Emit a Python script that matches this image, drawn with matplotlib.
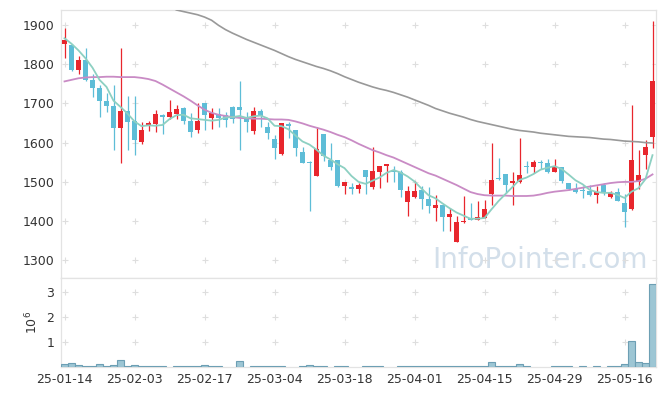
import numpy as np
import matplotlib
matplotlib.use("Agg")
import matplotlib.pyplot as plt

nan = float("nan")

# daily prices, one entry per trading day (2025-01-14 .. 2025-05-22)
opens = [1851, 1848, 1786, 1811, 1759, 1738, 1707, 1694, 1638, 1680,
         1655, 1602, 1645, 1648, 1670, 1666, 1672, 1688, 1656, 1632,
         1700, 1664, 1674, 1670, 1692, 1690, 1665, 1630, 1680, 1641,
         1608, 1570, 1648, 1631, 1576, 1551, 1516, 1621, 1556, 1555,
         1490, 1486, 1482, 1530, 1488, 1526, 1540, 1528, 1526, 1448,
         1462, 1478, 1457, 1434, 1441, 1411, 1348, 1397, 1408, 1404,
         1409, 1468, 1511, 1519, 1498, 1499, 1541, 1539, 1550, 1549,
         1526, 1538, 1497, 1483, 1480, 1477, 1466, 1493, 1462, 1474,
         1447, 1432, 1500, 1568, 1615]
highs = [1893, 1852, 1820, 1842, 1776, 1746, 1727, 1748, 1840, 1720,
         1718, 1653, 1655, 1683, 1674, 1708, 1697, 1690, 1676, 1700,
         1701, 1688, 1689, 1677, 1693, 1756, 1677, 1692, 1685, 1653,
         1620, 1650, 1653, 1632, 1588, 1552, 1640, 1622, 1600, 1556,
         1500, 1498, 1497, 1531, 1588, 1541, 1546, 1541, 1530, 1490,
         1501, 1490, 1488, 1467, 1442, 1434, 1413, 1465, 1445, 1452,
         1454, 1598, 1560, 1520, 1525, 1611, 1552, 1555, 1556, 1559,
         1557, 1539, 1498, 1497, 1490, 1493, 1489, 1496, 1476, 1485,
         1470, 1697, 1580, 1607, 1909]
lows = [1815, 1782, 1774, 1757, 1717, 1666, 1678, 1580, 1549, 1580,
        1569, 1596, 1629, 1627, 1621, 1660, 1661, 1647, 1614, 1625,
        1632, 1636, 1640, 1640, 1649, 1581, 1627, 1621, 1640, 1608,
        1558, 1569, 1612, 1565, 1549, 1426, 1516, 1554, 1530, 1486,
        1468, 1468, 1472, 1468, 1483, 1484, 1500, 1500, 1462, 1412,
        1460, 1430, 1420, 1401, 1375, 1375, 1347, 1396, 1403, 1404,
        1408, 1440, 1506, 1471, 1441, 1496, 1522, 1522, 1534, 1522,
        1525, 1496, 1480, 1471, 1459, 1463, 1445, 1466, 1459, 1450,
        1384, 1428, 1482, 1534, 1587]
closes = [1861, 1785, 1811, 1760, 1738, 1706, 1694, 1638, 1680, 1653,
          1607, 1631, 1650, 1674, 1665, 1678, 1685, 1654, 1627, 1654,
          1671, 1676, 1663, 1658, 1659, 1683, 1653, 1680, 1668, 1625,
          1587, 1649, 1643, 1587, 1549, 1549, 1583, 1565, 1538, 1490,
          1499, 1483, 1492, 1513, 1527, 1540, 1545, 1526, 1480, 1477,
          1476, 1456, 1439, 1441, 1411, 1419, 1398, 1400, 1404, 1410,
          1430, 1505, 1507, 1492, 1502, 1517, 1539, 1550, 1548, 1526,
          1538, 1502, 1481, 1473, 1476, 1466, 1475, 1472, 1471, 1451,
          1424, 1555, 1517, 1590, 1756]

# volume, millions of shares
volume_m = [0.11, 0.16, 0.08, 0.03, 0.03, 0.11, 0.03, 0.08, 0.29, 0.03,
            0.08, 0.03, 0.03, 0.03, 0.03, 0, 0.03, 0.03, 0.03, 0.03,
            0.07, 0.03, 0.03, 0, 0, 0.25, 0, 0.03, 0.03, 0.03,
            0.03, 0.03, 0, 0, 0.03, 0.08, 0.03, 0.03, 0, 0.03,
            0.03, 0, 0, 0.03, 0.03, 0.03, 0, 0, 0.03, 0.03,
            0.03, 0.03, 0.03, 0.03, 0.03, 0.03, 0.03, 0.03, 0.03, 0.03,
            0.03, 0.19, 0.03, 0.03, 0.03, 0.10, 0.03, 0, 0, 0,
            0.03, 0.03, 0.03, 0, 0.03, 0, 0.03, 0, 0.03, 0.03,
            0.10, 1.04, 0.19, 0.15, 3.32]

# moving average lines
ma_short = [1866, 1852, 1835, 1815, 1791, 1760, 1742, 1707, 1691, 1674,
            1654, 1642, 1644, 1643, 1645, 1660, 1670, 1671, 1662, 1660,
            1658, 1656, 1658, 1664, 1665, 1668, 1663, 1667, 1669, 1662,
            1643, 1642, 1634, 1618, 1603, 1595, 1582, 1567, 1557, 1545,
            1535, 1515, 1500, 1495, 1503, 1511, 1523, 1530, 1524, 1514,
            1501, 1483, 1466, 1458, 1445, 1433, 1422, 1414, 1406, 1406,
            1408, 1430, 1451, 1469, 1487, 1505, 1511, 1520, 1531, 1536,
            1540, 1533, 1519, 1504, 1494, 1480, 1474, 1472, 1472, 1467,
            1459, 1475, 1484, 1507, 1568]
ma_mid = [1756, 1760, 1764, 1766, 1767, 1767, 1768, 1768, 1767, 1767,
          1767, 1765, 1762, 1757, 1748, 1738, 1728, 1718, 1707, 1695,
          1684, 1676, 1671, 1668, 1665, 1663, 1662, 1661, 1661, 1660,
          1659, 1659, 1658, 1654, 1649, 1643, 1638, 1633, 1627, 1620,
          1614, 1606, 1597, 1589, 1581, 1575, 1568, 1562, 1554, 1546,
          1538, 1530, 1522, 1516, 1508, 1500, 1492, 1483, 1474, 1469,
          1466, 1465, 1465, 1465, 1464, 1464, 1464, 1465, 1468, 1472,
          1475, 1477, 1479, 1482, 1485, 1488, 1491, 1494, 1497, 1499,
          1500, 1500, 1502, 1508, 1519]
ma_long = [nan, nan, nan, nan, nan, nan, nan, nan, nan, nan,
           nan, nan, nan, nan, nan, 1948, 1938, 1934, 1930, 1926,
           1920, 1912, 1899, 1888, 1879, 1871, 1863, 1856, 1849, 1842,
           1835, 1827, 1819, 1812, 1806, 1800, 1794, 1789, 1783, 1776,
           1768, 1761, 1754, 1748, 1742, 1737, 1733, 1728, 1722, 1716,
           1709, 1702, 1695, 1687, 1681, 1675, 1670, 1665, 1659, 1654,
           1650, 1646, 1642, 1638, 1634, 1631, 1629, 1627, 1624, 1622,
           1620, 1618, 1616, 1615, 1614, 1613, 1611, 1609, 1608, 1606,
           1604, 1603, 1602, 1600, 1599]

tick_idx = [0, 10, 20, 30, 40, 50, 60, 70, 80]
tick_labels = ["25-01-14", "25-02-03", "25-02-17", "25-03-04", "25-03-18",
               "25-04-01", "25-04-15", "25-04-29", "25-05-16"]
price_ticks = [1300, 1400, 1500, 1600, 1700, 1800, 1900]
vol_ticks = [1, 2, 3]

UP = "#e8262d"
DOWN = "#5ebdd7"
SPINE = "#e3e3e3"
TXT = "#333333"


def style_axes(a):
    for s in a.spines.values():
        s.set_color(SPINE)
        s.set_linewidth(0.9)
    a.set_facecolor("white")


def main():
    o = np.array(opens, float)
    h = np.array(highs, float)
    l = np.array(lows, float)
    c = np.array(closes, float)
    x = np.arange(len(c))

    fig = plt.figure(figsize=(6.65, 3.96), dpi=100)
    W, H = 665.0, 396.0
    ax = fig.add_axes([61 / W, 1 - 278 / H, 595 / W, 268 / H])
    axv = fig.add_axes([61 / W, 1 - 367 / H, 595 / W, 89 / H], sharex=ax)
    style_axes(ax)
    style_axes(axv)

    up = c >= o
    colors = np.where(up, UP, DOWN)
    ax.vlines(x, l, h, colors=colors, linewidth=0.9, zorder=2)
    body_lo = np.minimum(o, c)
    body_h = np.maximum(np.abs(c - o), 1.5)
    ax.bar(x, body_h, bottom=body_lo, width=0.72, color=colors,
           linewidth=0, zorder=3)

    ax.plot(x, ma_long, color="#999999", lw=1.2, zorder=4)
    ax.plot(x, ma_mid, color="#c98bc5", lw=1.3, zorder=4)
    ax.plot(x, ma_short, color="#8dd0c2", lw=1.3, zorder=4)

    ax.set_xlim(-0.5, 84.5)
    ax.set_ylim(1255, 1938)
    ax.set_yticks(price_ticks)
    ax.tick_params(axis="y", left=False, right=True, direction="in",
                   length=3, color=SPINE, labelsize=9, labelcolor=TXT, pad=5)
    ax.tick_params(axis="x", bottom=False, labelbottom=False)

    gx, gy = np.meshgrid(tick_idx, price_ticks)
    ax.scatter(gx.ravel(), gy.ravel(), marker="+", s=14, color="#dedede",
               linewidths=0.8, zorder=1)

    ax.text(0.986, 0.037, "InfoPointer.com", transform=ax.transAxes,
            ha="right", va="baseline", fontsize=20, color="#d3dfea", zorder=0)

    vol = np.array(volume_m, float)
    keep = vol > 0
    axv.bar(x[keep], vol[keep], width=1.0, color="#9dc6d4",
            edgecolor="#6d9fb4", linewidth=0.8, zorder=3)
    axv.set_ylim(0, 3.55)
    axv.set_yticks(vol_ticks)
    axv.set_yticklabels([str(v) for v in vol_ticks])
    axv.tick_params(axis="y", left=False, right=True, direction="in",
                    length=3, color=SPINE, labelsize=9, labelcolor=TXT, pad=5)
    axv.set_xticks(tick_idx)
    axv.set_xticklabels(tick_labels)
    axv.tick_params(axis="x", length=0, labelsize=9, labelcolor=TXT, pad=4)
    axv.set_ylabel(r"$10^6$", fontsize=9, color=TXT, labelpad=4)

    gx, gy = np.meshgrid(tick_idx, vol_ticks)
    axv.scatter(gx.ravel(), gy.ravel(), marker="+", s=14, color="#dedede",
                linewidths=0.8, zorder=1)

    fig.savefig("out.png", dpi=100, facecolor="white")


if __name__ == "__main__":
    main()
